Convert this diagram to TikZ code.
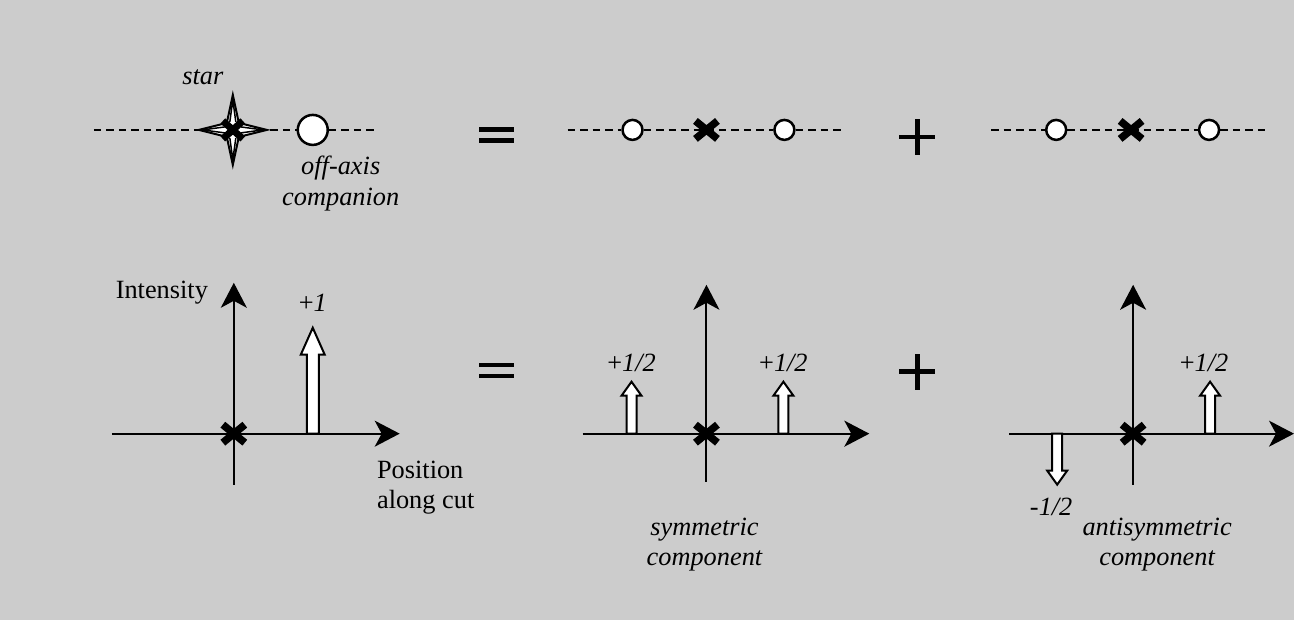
\documentclass[tikz,border=0pt]{standalone}
\usepackage{fontspec}
\setmainfont{Liberation Serif}
\usetikzlibrary{arrows.meta}
\definecolor{bg}{RGB}{204,204,204}
\begin{document}
\begin{tikzpicture}[x=0.02cm,y=-0.02cm,
  txt/.style={font=\fontsize{15}{17.5}\selectfont\itshape, inner sep=0pt},
  rtxt/.style={font=\fontsize{15}{17.5}\selectfont, inner sep=0pt},
  comp/.style={circle,draw,fill=white,line width=0.05cm,inner sep=0pt},
  dline/.style={line width=0.04cm, dash pattern=on 0.15cm off 0.1cm},
  axis/.style={line width=0.04cm,-{Stealth[length=0.5cm,width=0.52cm,inset=0.14cm]}},
  blk/.style={fill=white,draw=black,line width=0.04cm,line join=miter},
  bar/.style={line width=0.09cm},
  xmk/.pic={\draw[line width=0.15cm] (-11,-9)--(11,9) (-11,9)--(11,-9);},
  starpic/.pic={\filldraw[fill=white,line width=0.04cm,line join=miter]
     (0,-35)--(6,-7)--(34,0)--(6,7)--(0,35)--(-6,7)--(-34,0)--(-6,-7)--cycle;
     \draw[line width=0.03cm] (-30,0)--(-8,-3) (-30,0)--(-8,3) (30,0)--(8,-3) (30,0)--(8,3)
       (0,-30)--(-3,-8) (0,-30)--(3,-8) (0,30)--(-3,8) (0,30)--(3,8);
     \draw[line width=0.14cm] (-10,-9)--(10,9) (-10,9)--(10,-9);}
]
\fill[bg] (0,0) rectangle (1295,620);

% ---------- top row, panel 1
\coordinate (t1l) at (94,130);
\coordinate (t1r) at (375,130);
\coordinate (star) at (233,130);
\node[comp,minimum size=0.6cm] (comp1) at (313,130) {};
\draw[dline] (t1l) -- (star);
\draw[dline] (star) -- (comp1);
\draw[dline] (comp1) -- (t1r);
\pic at (star) {starpic};
\node[txt] (startxt) at (203,77) {star};
\node[txt,align=center] (offtxt) at (341,184) {off-axis\\companion};

% equals top
\coordinate (eq1) at (497,135);
\draw[bar] ([xshift=-0.35cm,yshift=0.11cm]eq1) -- ([xshift=0.35cm,yshift=0.11cm]eq1);
\draw[bar] ([xshift=-0.35cm,yshift=-0.11cm]eq1) -- ([xshift=0.35cm,yshift=-0.11cm]eq1);

% ---------- top row, panel 2
\coordinate (t2l) at (568,130);
\coordinate (t2r) at (845,130);
\coordinate (x2) at (707,130);
\node[comp,minimum size=0.4cm] (c2a) at (633,130) {};
\node[comp,minimum size=0.4cm] (c2b) at (785,130) {};
\draw[dline] (t2l) -- (c2a);
\draw[dline] (c2a) -- (x2);
\draw[dline] (x2) -- (c2b);
\draw[dline] (c2b) -- (t2r);
\pic at (x2) {xmk};

% plus top
\coordinate (pl1) at (918,137);
\draw[bar] ([xshift=-0.36cm]pl1) -- ([xshift=0.36cm]pl1);
\draw[bar] ([yshift=-0.36cm]pl1) -- ([yshift=0.36cm]pl1);

% ---------- top row, panel 3
\coordinate (t3l) at (992,130);
\coordinate (t3r) at (1270,130);
\coordinate (x3) at (1132,130);
\node[comp,minimum size=0.4cm] (c3a) at (1057,130) {};
\node[comp,minimum size=0.4cm] (c3b) at (1210,130) {};
\draw[dline] (t3l) -- (c3a);
\draw[dline] (c3a) -- (x3);
\draw[dline] (x3) -- (c3b);
\draw[dline] (c3b) -- (t3r);
\pic at (x3) {xmk};

% ---------- bottom row, panel 1
\coordinate (b1o) at (234,434);
\coordinate (b1l) at (112,434);
\coordinate (b1r) at (400,434);
\coordinate (b1b) at (234,485);
\coordinate (b1t) at (234,283);
\draw[axis] (b1l) -- (b1r);
\draw[axis] (b1b) -- (b1t);
\pic at (b1o) {xmk};
\draw[blk] (307,434) -- (307,355) -- (301,355) -- (313,328) -- (325,355) -- (319,355) -- (319,434) -- cycle;
\node[rtxt] (inttxt) at (162,293) {Intensity};
\node[rtxt] (p1txt) at (313,303) {+\textit{1}};
\node[rtxt,anchor=west,align=left] (postxt) at (377,488) {Position\\along cut};

% equals bottom
\coordinate (eq2) at (497,371);
\draw[bar] ([xshift=-0.35cm,yshift=0.11cm]eq2) -- ([xshift=0.35cm,yshift=0.11cm]eq2);
\draw[bar] ([xshift=-0.35cm,yshift=-0.11cm]eq2) -- ([xshift=0.35cm,yshift=-0.11cm]eq2);

% ---------- bottom row, panel 2
\coordinate (b2o) at (707,434);
\coordinate (b2l) at (583,434);
\coordinate (b2r) at (870,434);
\coordinate (b2b) at (707,482);
\coordinate (b2t) at (707,285);
\draw[axis] (b2l) -- (b2r);
\draw[axis] (b2b) -- (b2t);
\pic at (b2o) {xmk};
\draw[blk] (627,434) -- (627,396) -- (622,396) -- (632,382) -- (642,396) -- (637,396) -- (637,434) -- cycle;
\draw[blk] (779,434) -- (779,396) -- (774,396) -- (784,382) -- (794,396) -- (789,396) -- (789,434) -- cycle;
\node[rtxt] (h2a) at (632,363) {+\textit{1/2}};
\node[rtxt] (h2b) at (784,363) {+\textit{1/2}};
\node[txt,align=center] (symtxt) at (705,545) {symmetric\\component};

% plus bottom
\coordinate (pl2) at (918,372);
\draw[bar] ([xshift=-0.36cm]pl2) -- ([xshift=0.36cm]pl2);
\draw[bar] ([yshift=-0.36cm]pl2) -- ([yshift=0.36cm]pl2);

% ---------- bottom row, panel 3
\coordinate (b3o) at (1134,434);
\coordinate (b3l) at (1010,434);
\coordinate (b3r) at (1295,434);
\coordinate (b3b) at (1134,485);
\coordinate (b3t) at (1134,285);
\draw[axis] (b3l) -- (b3r);
\draw[axis] (b3b) -- (b3t);
\pic at (b3o) {xmk};
\draw[blk] (1206,434) -- (1206,396) -- (1201,396) -- (1211,382) -- (1221,396) -- (1216,396) -- (1216,434) -- cycle;
\draw[blk] (1053,434) -- (1053,471) -- (1048,471) -- (1058,485) -- (1068,471) -- (1063,471) -- (1063,434) -- cycle;
\node[rtxt] (h3a) at (1205,363) {+\textit{1/2}};
\node[txt] (h3b) at (1052,507) {-1/2};
\node[txt,align=center] (antitxt) at (1158,545) {antisymmetric\\component};
\end{tikzpicture}
\end{document}
